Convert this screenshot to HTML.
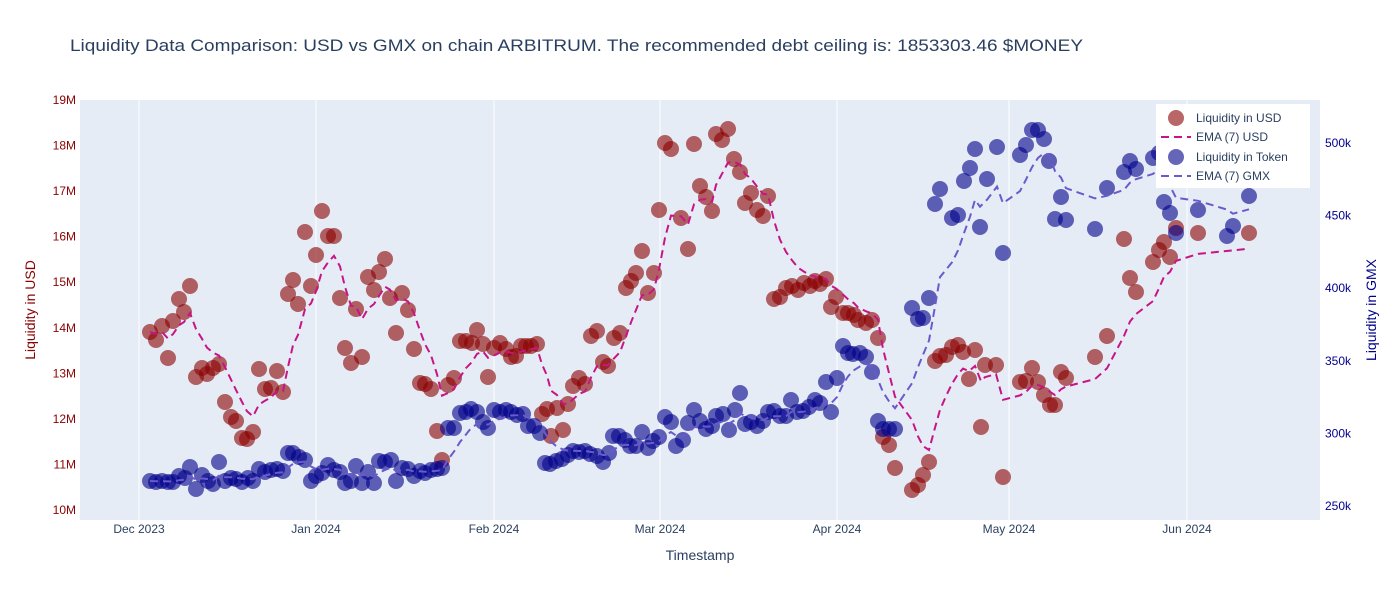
<!DOCTYPE html>
<html><head><meta charset="utf-8"><style>
body{margin:0;background:#fff;}
svg text{font-family:"Liberation Sans",Arial,sans-serif;}
</style></head><body>
<svg id="s" width="1400" height="600" xmlns="http://www.w3.org/2000/svg">
<rect width="1400" height="600" fill="#fff"/>
<rect x="80" y="100" width="1240" height="420" fill="#e5ecf6"/>
<g stroke="#fff" stroke-width="1">
<line x1="139" y1="100" x2="139" y2="520"/><line x1="316" y1="100" x2="316" y2="520"/>
<line x1="494" y1="100" x2="494" y2="520"/><line x1="660" y1="100" x2="660" y2="520"/>
<line x1="837" y1="100" x2="837" y2="520"/><line x1="1009" y1="100" x2="1009" y2="520"/>
<line x1="1187" y1="100" x2="1187" y2="520"/>
</g>
<text x="70" y="51" font-size="17" fill="#2a3f5f" textLength="1013" lengthAdjust="spacingAndGlyphs">Liquidity Data Comparison: USD vs GMX on chain ARBITRUM. The recommended debt ceiling is: 1853303.46 $MONEY</text>
<g font-size="12" fill="#8b0000" text-anchor="end" id="ly"></g>
<g font-size="12" fill="#00008b" id="ry"></g>
<g font-size="12" fill="#2a3f5f" text-anchor="middle">
<text x="139" y="533">Dec 2023</text><text x="316" y="533">Jan 2024</text><text x="494" y="533">Feb 2024</text>
<text x="660" y="533">Mar 2024</text><text x="837" y="533">Apr 2024</text><text x="1009" y="533">May 2024</text><text x="1187" y="533">Jun 2024</text>
</g>
<text x="700" y="560" font-size="14" fill="#2a3f5f" text-anchor="middle">Timestamp</text>
<text transform="translate(35,310) rotate(-90)" font-size="14" fill="#8b0000" text-anchor="middle">Liquidity in USD</text>
<text transform="translate(1376,310) rotate(-90)" font-size="14" fill="#00008b" text-anchor="middle">Liquidity in GMX</text>
<g id="data"></g>
<rect x="1156" y="104" width="154" height="84" fill="#fff"/>
<circle cx="1176" cy="118" r="8" fill="#8b0000" opacity="0.6"/>
<line x1="1161" y1="137" x2="1191" y2="137" stroke="#c71585" stroke-width="2" stroke-dasharray="8,5"/>
<circle cx="1176" cy="157" r="8" fill="#00008b" opacity="0.6"/>
<line x1="1161" y1="176" x2="1191" y2="176" stroke="#6a5acd" stroke-width="2" stroke-dasharray="8,5"/>
<g font-size="12" fill="#2a3f5f">
<text x="1196" y="122">Liquidity in USD</text><text x="1196" y="141">EMA (7) USD</text>
<text x="1196" y="161">Liquidity in Token</text><text x="1196" y="180">EMA (7) GMX</text>
</g>
</svg>
<script>
var NS="http://www.w3.org/2000/svg";
function el(t,a,p){var e=document.createElementNS(NS,t);for(var k in a)e.setAttribute(k,a[k]);p.appendChild(e);return e;}
var ly=document.getElementById('ly'),ry=document.getElementById('ry');
for(var i=10;i<=19;i++){var y=510-(i-10)*45.56;el('text',{x:76,y:y+4},ly).textContent=i+'M';}
for(var v=250;v<=500;v+=50){var y=506-(v-250)*1.452;el('text',{x:1325,y:y+4},ry).textContent=v+'k';}
var usd=[[150,332],[156,340],[162,326],[168,358],[173,321],[179,299],[184,312],[190,286],[196,377],[202,368],[207,374],[213,368],[219,364],[225,402],[231,417],[236,421],[242,438],[247,439],[253,432],[259,369],[265,389],[271,388],[277,371],[283,392],[288,294],[293,280],[298,304],[305,232],[311,286],[316,255],[322,211],[328,236],[334,236],[340,298],[345,348],[351,363],[356,309],[362,357],[368,277],[374,290],[379,272],[385,259],[390,298],[396,333],[402,293],[408,310],[414,349],[420,383],[425,384],[431,389],[437,431],[442,460],[448,385],[454,378],[460,341],[466,341],[472,343],[477,330],[483,344],[488,377],[494,348],[500,343],[506,349],[511,357],[516,356],[521,346],[526,346],[531,346],[537,344],[542,414],[547,409],[551,436],[557,408],[563,430],[568,404],[573,386],[579,378],[585,384],[591,336],[597,331],[603,362],[608,366],[614,338],[620,333],[626,288],[631,281],[636,273],[642,251],[648,293],[654,273],[659,210],[665,143],[671,149],[681,218],[688,249],[694,144],[700,186],[706,197],[712,211],[716,134],[722,140],[728,129],[734,159],[740,172],[745,203],[751,193],[757,210],[763,216],[768,196],[774,299],[780,297],[786,288],[792,286],[798,290],[804,283],[810,286],[815,281],[820,284],[826,279],[831,307],[836,297],[843,313],[848,313],[854,315],[858,320],[866,323],[872,320],[878,338],[883,437],[889,445],[895,468],[912,490],[918,485],[923,475],[929,462],[935,361],[940,356],[946,355],[952,347],[958,345],[963,352],[969,379],[975,350],[981,427],[985,365],[996,365],[1003,477],[1020,382],[1026,381],[1032,368],[1038,382],[1044,395],[1050,405],[1055,405],[1061,372],[1066,378],[1095,357],[1107,336],[1124,239],[1130,278],[1136,292],[1153,262],[1159,250],[1164,242],[1170,257],[1176,228],[1198,233],[1249,233]];
var gmx=[[150,481],[156,482],[162,481],[168,482],[173,482],[179,476],[185,478],[190,467],[196,489],[202,475],[208,481],[213,484],[219,462],[225,481],[231,478],[236,479],[242,482],[248,478],[253,481],[259,469],[265,472],[271,470],[277,469],[283,471],[288,453],[293,453],[299,457],[305,460],[311,481],[316,476],[322,473],[328,465],[334,470],[340,472],[345,483],[351,481],[356,466],[362,483],[368,472],[374,483],[379,461],[385,462],[391,460],[396,481],[402,468],[408,469],[414,476],[420,471],[425,473],[431,470],[437,469],[442,468],[448,428],[454,428],[460,413],[466,412],[471,409],[477,412],[483,422],[488,428],[494,410],[500,412],[506,410],[511,412],[517,415],[523,414],[528,426],[534,426],[540,433],[545,463],[550,464],[556,461],[562,459],[568,455],[573,451],[579,452],[585,451],[590,454],[597,456],[603,462],[609,453],[613,436],[619,436],[625,440],[630,446],[636,446],[642,432],[648,448],[653,441],[659,437],[665,417],[671,422],[676,446],[683,440],[688,423],[694,410],[700,421],[706,429],[712,426],[716,416],[723,414],[729,430],[735,410],[740,393],[745,424],[751,422],[757,426],[763,421],[768,412],[774,411],[780,416],[786,416],[791,400],[797,412],[803,411],[809,407],[815,400],[820,403],[826,382],[831,412],[837,378],[843,346],[848,353],[853,354],[860,353],[866,357],[872,372],[878,421],[883,429],[889,429],[895,429],[912,308],[918,319],[923,318],[929,298],[935,204],[940,189],[952,218],[958,215],[964,181],[970,168],[975,149],[980,227],[987,179],[997,147],[1003,253],[1020,155],[1026,145],[1032,130],[1038,130],[1044,139],[1049,161],[1055,219],[1061,197],[1066,220],[1095,229],[1107,188],[1124,172],[1130,161],[1136,169],[1153,158],[1159,153],[1164,202],[1170,213],[1176,233],[1198,210],[1227,236],[1233,226],[1249,196]];
var g=document.getElementById('data');
function ema(pts){var a=2/8,e=pts[0][1],o=[];pts.forEach(function(p){e=a*p[1]+(1-a)*e;o.push(p[0]+','+e.toFixed(1));});return o.join(' ');}
usd.forEach(function(p){el('circle',{cx:p[0],cy:p[1],r:8,fill:'#8b0000',opacity:0.6},g);});
el('polyline',{points:ema(usd),fill:'none',stroke:'#c71585','stroke-width':2,'stroke-dasharray':'8,5'},g);
gmx.forEach(function(p){el('circle',{cx:p[0],cy:p[1],r:8,fill:'#00008b',opacity:0.6},g);});
el('polyline',{points:ema(gmx),fill:'none',stroke:'#6a5acd','stroke-width':2,'stroke-dasharray':'8,5'},g);
</script>
</body></html>
